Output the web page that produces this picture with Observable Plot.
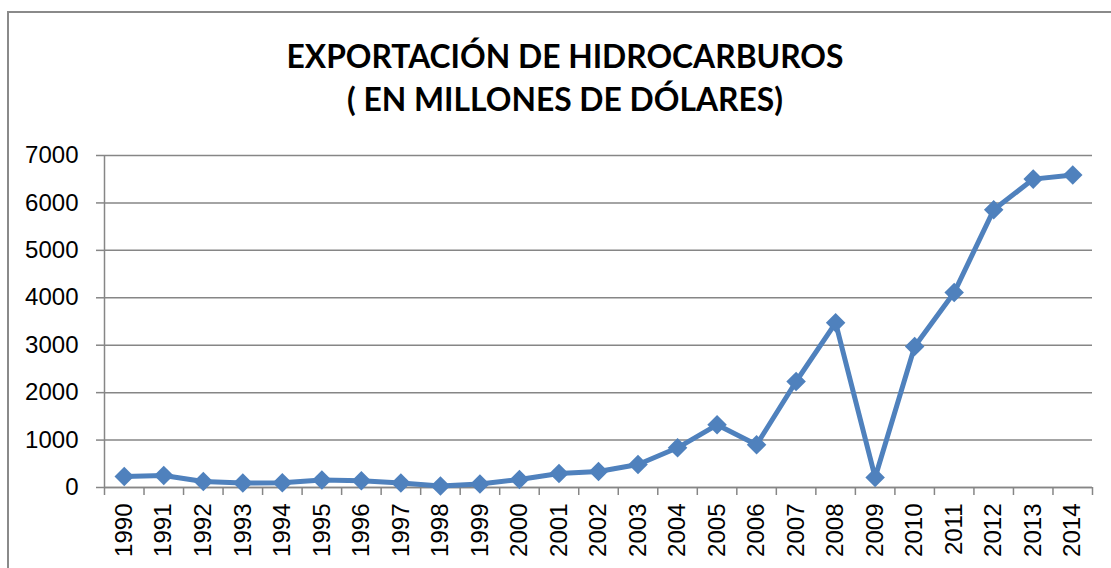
<!DOCTYPE html>
<html><head><meta charset="utf-8">
<script src="https://cdn.jsdelivr.net/npm/d3@7"></script>
<script src="https://cdn.jsdelivr.net/npm/@observablehq/plot@0.6"></script>
<style>
body{margin:0;background:#fff;overflow:hidden;width:1111px;height:568px;}
#frame{position:absolute;left:7px;top:11px;width:1130px;height:600px;border:2px solid #8a8a8a;box-sizing:border-box;}
#title{position:absolute;left:0;width:1130px;top:35px;text-align:center;font-family:Lato;font-weight:bold;font-size:31.8px;line-height:43px;color:#000}
#chart{position:absolute;left:0;top:130px;}
</style></head><body>
<div id="frame"></div>
<div id="title">EXPORTACIÓN DE HIDROCARBUROS<br>( EN MILLONES DE DÓLARES)</div>
<div id="chart"></div>
<script>
const years = [1990,1991,1992,1993,1994,1995,1996,1997,1998,1999,2000,2001,2002,2003,2004,2005,2006,2007,2008,2009,2010,2011,2012,2013,2014];
const values = [232,255,127,93,100,156,141,93,30,72,169,295,337,485,837,1322,900,2235,3472,211,2973,4110,5855,6502,6587];
const yTicks = [0,1000,2000,3000,4000,5000,6000,7000];

const data = years.map((y, i) => ({year: y, value: values[i]}));
const boundaries = years.map(y => y - 0.5).concat([years[years.length - 1] + 0.5]);

const chart = Plot.plot({
  width: 1111,
  height: 438,
  marginLeft: 104,
  marginRight: 19,
  marginTop: 25,
  marginBottom: 81,
  style: {fontFamily: "Liberation Sans", fontSize: "24px", color: "#000", background: "transparent", overflow: "visible"},
  x: {type: "linear", domain: [boundaries[0], boundaries[boundaries.length - 1]]},
  y: {domain: [0, 7000]},
  marks: [
    Plot.gridY(yTicks, {stroke: "#868686", strokeOpacity: 1, strokeWidth: 1.5}),
    Plot.axisY(yTicks, {tickSize: 8, tickPadding: 18, stroke: "#868686", strokeWidth: 1.5, fill: "#000", fontSize: 24, label: null, tickFormat: d => String(d)}),
    Plot.ruleX([boundaries[0]], {stroke: "#868686", strokeWidth: 1.5}),
    Plot.ruleY([0], {stroke: "#868686", strokeWidth: 1.5}),
    Plot.axisX(boundaries, {tickSize: 8, stroke: "#868686", strokeWidth: 1.5, tickFormat: () => "", label: null}),
    Plot.axisX(years, {tickSize: 0, tickRotate: -90, tickPadding: 16, fill: "#000", fontSize: 24, label: null, tickFormat: d => String(d)}),
    Plot.line(data, {x: "year", y: "value", stroke: "#4F81BD", strokeWidth: 5, strokeLinejoin: "round"}),
    Plot.dot(data, {x: "year", y: "value", symbol: "diamond2", r: 8.8, fill: "#4F81BD", stroke: "none"})
  ]
});
document.getElementById("chart").appendChild(chart);
</script>
</body></html>
